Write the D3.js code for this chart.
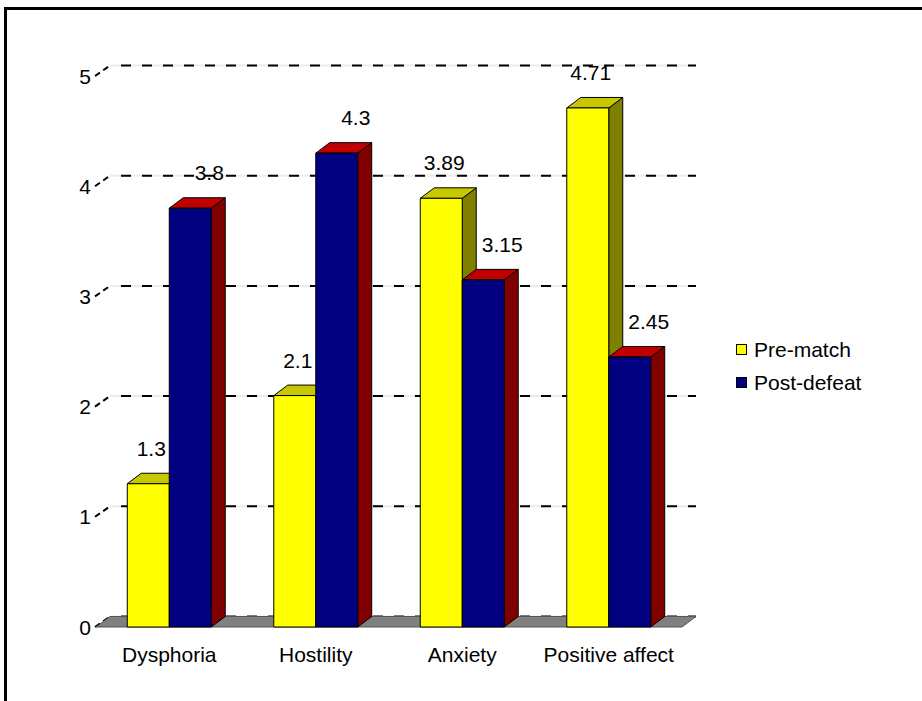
<!DOCTYPE html>
<html>
<head>
<meta charset="utf-8">
<script src="https://cdn.jsdelivr.net/npm/d3@7"></script>
<style>
  html, body { margin: 0; padding: 0; background: #fff; }
  svg { display: block; font-family: "Liberation Sans", Arial, sans-serif; }
</style>
</head>
<body>
<svg id="chart" width="922" height="701"></svg>
<script>
// ---- data ----
const categories = ["Dysphoria", "Hostility", "Anxiety", "Positive affect"];
const seriesNames = ["Pre-match", "Post-defeat"];
const preMatch = [1.3, 2.1, 3.89, 4.71];
const postDefeat = [3.8, 4.3, 3.15, 2.45];
const yTicks = [0, 1, 2, 3, 4, 5];

// ---- styles ----
const palettes = [
  { front: "#FFFF00", top: "#C8C800", side: "#808000" },
  { front: "#000080", top: "#C00000", side: "#800000" }
];

const svg = d3.select("#chart");
const W = 922, H = 701;
const depthX = 14, depthY = -10.5;
const x0 = 96, x1 = 682, yBase = 627, yTop = 76;
const fs = 21;

// frame
svg.append("rect").attr("x", 5.5).attr("y", 8.5).attr("width", W + 10).attr("height", H + 10)
  .attr("fill", "none").attr("stroke", "#000").attr("stroke-width", 3);

const x = d3.scaleBand().domain(categories).range([x0, x1]).paddingInner(0.427).paddingOuter(0.2135);
const xs = d3.scaleBand().domain(seriesNames).range([0, x.bandwidth()]);
const y = d3.scaleLinear().domain([0, 5]).range([yBase, yTop]);

// gridlines on back wall
const grid = svg.append("g");
yTicks.forEach(v => {
  const yb = y(v) + depthY;
  grid.append("line").attr("x1", x0 + depthX).attr("x2", x1 + depthX)
    .attr("y1", yb).attr("y2", yb).attr("stroke", "#ececec").attr("stroke-width", 2);
  grid.append("line").attr("x1", x0 + depthX).attr("x2", x1 + depthX)
    .attr("y1", yb).attr("y2", yb).attr("stroke", "#000").attr("stroke-width", 2)
    .attr("stroke-dasharray", "10,11").attr("stroke-dashoffset", 10);
  // stub from tick to wall
  grid.append("line").attr("x1", x0 - 1).attr("y1", y(v))
    .attr("x2", x0 + depthX).attr("y2", yb)
    .attr("stroke", "#000").attr("stroke-width", 2).attr("stroke-dasharray", "6,4");
  svg.append("text").attr("x", 91).attr("y", y(v) + 7.5).attr("text-anchor", "end")
    .attr("font-size", fs).attr("fill", "#000").text(v);
});

// floor
svg.append("path")
  .attr("d", `M${x0},${yBase} L${x0 + depthX},${yBase + depthY} L${x1 + depthX},${yBase + depthY} L${x1},${yBase} Z`)
  .attr("fill", "#808080").attr("stroke", "#555").attr("stroke-width", 1);

// bars
const seriesData = [preMatch, postDefeat];
const barsG = svg.append("g");
categories.forEach((c, i) => {
  seriesData.forEach((vals, s) => {
    const v = vals[i];
    const bx = x(c) + xs(seriesNames[s]);
    const bw = xs.bandwidth();
    const ty = y(v);
    const p = palettes[s];
    const g = barsG.append("g").attr("stroke", "#000").attr("stroke-width", 1).attr("stroke-linejoin", "round");
    g.append("path")
      .attr("d", `M${bx + bw},${yBase} L${bx + bw + depthX},${yBase + depthY} L${bx + bw + depthX},${ty + depthY} L${bx + bw},${ty} Z`)
      .attr("fill", p.side);
    g.append("path")
      .attr("d", `M${bx},${ty} L${bx + depthX},${ty + depthY} L${bx + bw + depthX},${ty + depthY} L${bx + bw},${ty} Z`)
      .attr("fill", p.top);
    g.append("rect").attr("x", bx).attr("y", ty).attr("width", bw).attr("height", yBase - ty)
      .attr("fill", p.front);
  });
});

// value labels
categories.forEach((c, i) => {
  seriesData.forEach((vals, s) => {
    const v = vals[i];
    const bx = x(c) + xs(seriesNames[s]);
    svg.append("text")
      .attr("x", bx + xs.bandwidth() / 2 + depthX / 2 + (s === 0 ? -4 : 12))
      .attr("y", y(v) - 28)
      .attr("text-anchor", "middle").attr("font-size", fs).attr("fill", "#000")
      .text(v);
  });
});

// category labels
categories.forEach(c => {
  svg.append("text").attr("x", x(c) + x.bandwidth() / 2).attr("y", 662)
    .attr("text-anchor", "middle").attr("font-size", fs).attr("fill", "#000").text(c);
});

// legend
const leg = svg.append("g");
seriesNames.forEach((n, s) => {
  const ly = 344 + s * 33;
  leg.append("rect").attr("x", 736.5).attr("y", ly + 0.5).attr("width", 10).attr("height", 10)
    .attr("fill", palettes[s].front).attr("stroke", "#000").attr("stroke-width", 1);
  leg.append("text").attr("x", 754).attr("y", ly + 13).attr("font-size", fs).attr("fill", "#000").text(n);
});
</script>
</body>
</html>
